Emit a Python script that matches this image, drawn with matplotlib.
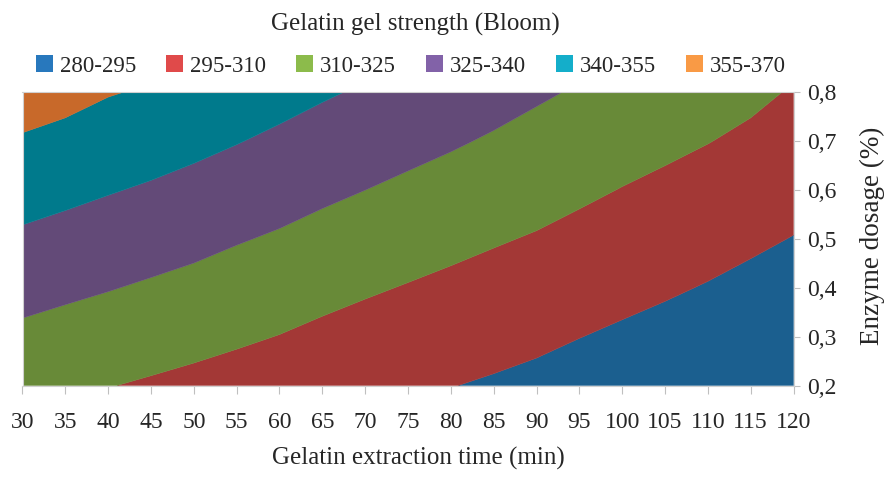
import matplotlib
matplotlib.use('Agg')
import matplotlib.pyplot as plt
import numpy as np
from matplotlib.patches import Patch

# ---- data (gel strength, Bloom) ----
time_min = [30, 35, 40, 45, 50, 55, 60, 65, 70, 75, 80, 85, 90, 95, 100, 105, 110, 115, 120]
dosage = [0.2, 0.3, 0.4, 0.5, 0.6, 0.7, 0.8]
bloom_02 = [314.2, 312.2, 310.4, 308.5, 306.6, 304.8, 302.8, 300.6, 298.8, 297.0, 295.3,
            293.6, 291.8, 289.6, 287.6, 285.7, 283.6, 281.6, 280.5]
bloom_03 = [322.0, 319.9, 318.0, 316.0, 314.0, 311.8, 309.7, 307.2, 305.0, 303.1, 301.2,
            299.4, 297.5, 295.2, 293.1, 291.1, 288.9, 286.7, 284.7]
bloom_04 = [329.9, 327.7, 325.6, 323.4, 321.3, 318.8, 316.6, 313.9, 311.5, 309.3, 307.2,
            305.2, 303.3, 300.9, 298.6, 296.5, 294.3, 291.9, 289.6]
bloom_05 = [337.7, 335.4, 333.2, 331.0, 328.6, 325.9, 323.5, 320.7, 318.2, 315.8, 313.4,
            311.1, 309.0, 306.5, 304.1, 301.9, 299.6, 297.1, 294.6]
bloom_06 = [345.7, 343.3, 340.8, 338.5, 336.0, 333.2, 330.5, 327.6, 325.0, 322.4, 319.9,
            317.3, 314.9, 312.2, 309.6, 307.3, 304.9, 302.3, 299.6]
bloom_07 = [353.6, 351.2, 348.3, 346.0, 343.3, 340.5, 337.5, 334.5, 331.8, 329.0, 326.4,
            323.6, 320.8, 318.0, 315.1, 312.7, 310.3, 307.6, 304.5]
bloom_08 = [361.6, 359.1, 355.7, 353.6, 350.7, 347.8, 344.6, 341.4, 338.5, 335.6, 332.8,
            329.9, 326.7, 323.8, 320.6, 318.1, 315.3, 312.6, 309.0]

levels = [280, 295, 310, 325, 340, 355, 370]
band_labels = ['280-295', '295-310', '310-325', '325-340', '340-355', '355-370']
band_colors = ['#1B5F8F', '#A33836', '#688A38', '#634A78', '#007A8C', '#C8692A']
legend_colors = ['#2878BD', '#E04A4A', '#8CBB4B', '#8262A8', '#14AECA', '#F99A45']

xticks = list(range(30, 121, 5))
yticks = [0.2, 0.3, 0.4, 0.5, 0.6, 0.7, 0.8]
ytick_labels = ['0,2', '0,3', '0,4', '0,5', '0,6', '0,7', '0,8']

plt.rcParams['font.family'] = ['Liberation Serif', 'DejaVu Serif']
txt_color = '#262626'

W, H = 889, 480
fig = plt.figure(figsize=(W / 100, H / 100), dpi=100)
ax = fig.add_axes([22.5 / W, 1 - 385.5 / H, 771 / W, 293 / H])

Z = np.array([bloom_02, bloom_03, bloom_04, bloom_05, bloom_06, bloom_07, bloom_08])
X, Y = np.meshgrid(time_min, dosage)
cs = ax.contourf(X, Y, Z, levels=levels, colors=band_colors, antialiased=True)
cs.set_edgecolor('face')
cs.set_linewidth(0.3)

ax.set_xlim(30, 120)
ax.set_ylim(0.2, 0.8)
ax.set_xticks(xticks)
ax.set_xticklabels([str(v) for v in xticks])
ax.yaxis.tick_right()
ax.set_yticks(yticks)
ax.set_yticklabels(ytick_labels)
ax.tick_params(axis='x', length=6, width=0.8, color='#BFBFBF', pad=13,
               labelsize=17, labelcolor=txt_color)
ax.tick_params(axis='y', length=4, width=0.8, color='#BFBFBF', pad=6,
               labelsize=17, labelcolor=txt_color)
for s in ax.spines.values():
    s.set_color('#D0D0D0')
    s.set_linewidth(0.8)

fig.text(415 / W, 1 - 24 / H, 'Gelatin gel strength (Bloom)', ha='center', va='center',
         fontsize=18, color=txt_color)
fig.text(418 / W, 1 - 458 / H, 'Gelatin extraction time (min)', ha='center', va='center',
         fontsize=18, color=txt_color)
fig.text(872 / W, 1 - 236 / H, 'Enzyme dosage (%)', ha='center', va='center',
         rotation=90, fontsize=19.5, color=txt_color)

handles = [Patch(facecolor=c, edgecolor='none', label=l) for c, l in zip(legend_colors, band_labels)]
fig.legend(handles=handles, loc='center', bbox_to_anchor=(411 / W, 1 - 66 / H), ncol=6,
           frameon=False, fontsize=16.5, handlelength=0.75, handleheight=0.75,
           handletextpad=0.3, columnspacing=1.3, labelcolor=txt_color)

fig.savefig('out.png', dpi=100)
